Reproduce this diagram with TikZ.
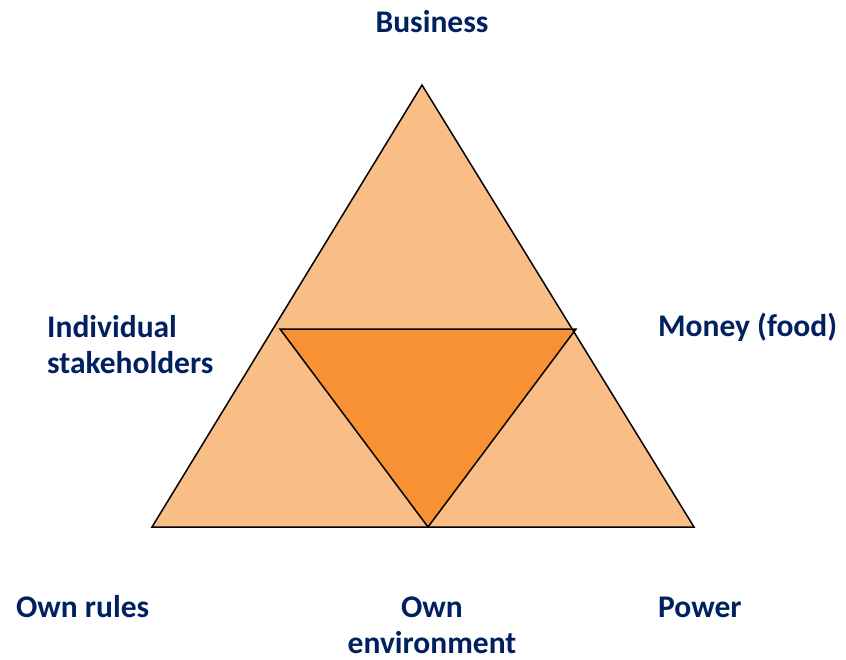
\documentclass[tikz,border=0pt]{standalone}
\usepackage{fontspec}
\setmainfont{Carlito}
\definecolor{lightorange}{RGB}{249, 189, 134}
\definecolor{darkorange}{RGB}{247, 145, 51}
\definecolor{labelblue}{RGB}{0, 32, 96}
\usetikzlibrary{positioning}

\begin{document}
\begin{tikzpicture}[x=1pt, y=-1pt,
  corner/.style={font=\fontsize{31.5}{36}\selectfont\bfseries, text=labelblue, inner sep=0pt}]
  \useasboundingbox (0, 0) rectangle (846, 659);

  % === Outer triangle ===
  \coordinate (apex) at (422, 85);
  \coordinate (left) at (152, 527);
  \coordinate (right) at (694, 527);
  \fill[lightorange] (apex) -- (left) -- (right) -- cycle;

  % === Inner triangle ===
  \coordinate (innerleft) at (280, 329);
  \coordinate (innerright) at (576, 329);
  \coordinate (innerbottom) at (428, 527);
  \fill[darkorange] (innerleft) -- (innerright) -- (innerbottom) -- cycle;

  % Outlines
  \draw[line width=1.5pt, line join=miter] (apex) -- (left) -- (right) -- cycle;
  \draw[line width=1.5pt, line join=miter] (innerleft) -- (innerright) -- (innerbottom) -- cycle;

  % === Labels ===
  \node[corner, anchor=base] (business) at (432, 32) {Business};
  \node[corner, anchor=base west, align=left] (stakeholders) at (47, 373) {Individual\\stakeholders};
  \node[corner, anchor=base west] (money) at (658, 336) {Money (food)};
  \node[corner, anchor=base west] (rules) at (16, 617) {Own rules};
  \node[corner, anchor=base, align=center] (environment) at (432, 653) {Own\\environment};
  \node[corner, anchor=base west] (power) at (658, 617) {Power};
\end{tikzpicture}
\end{document}
